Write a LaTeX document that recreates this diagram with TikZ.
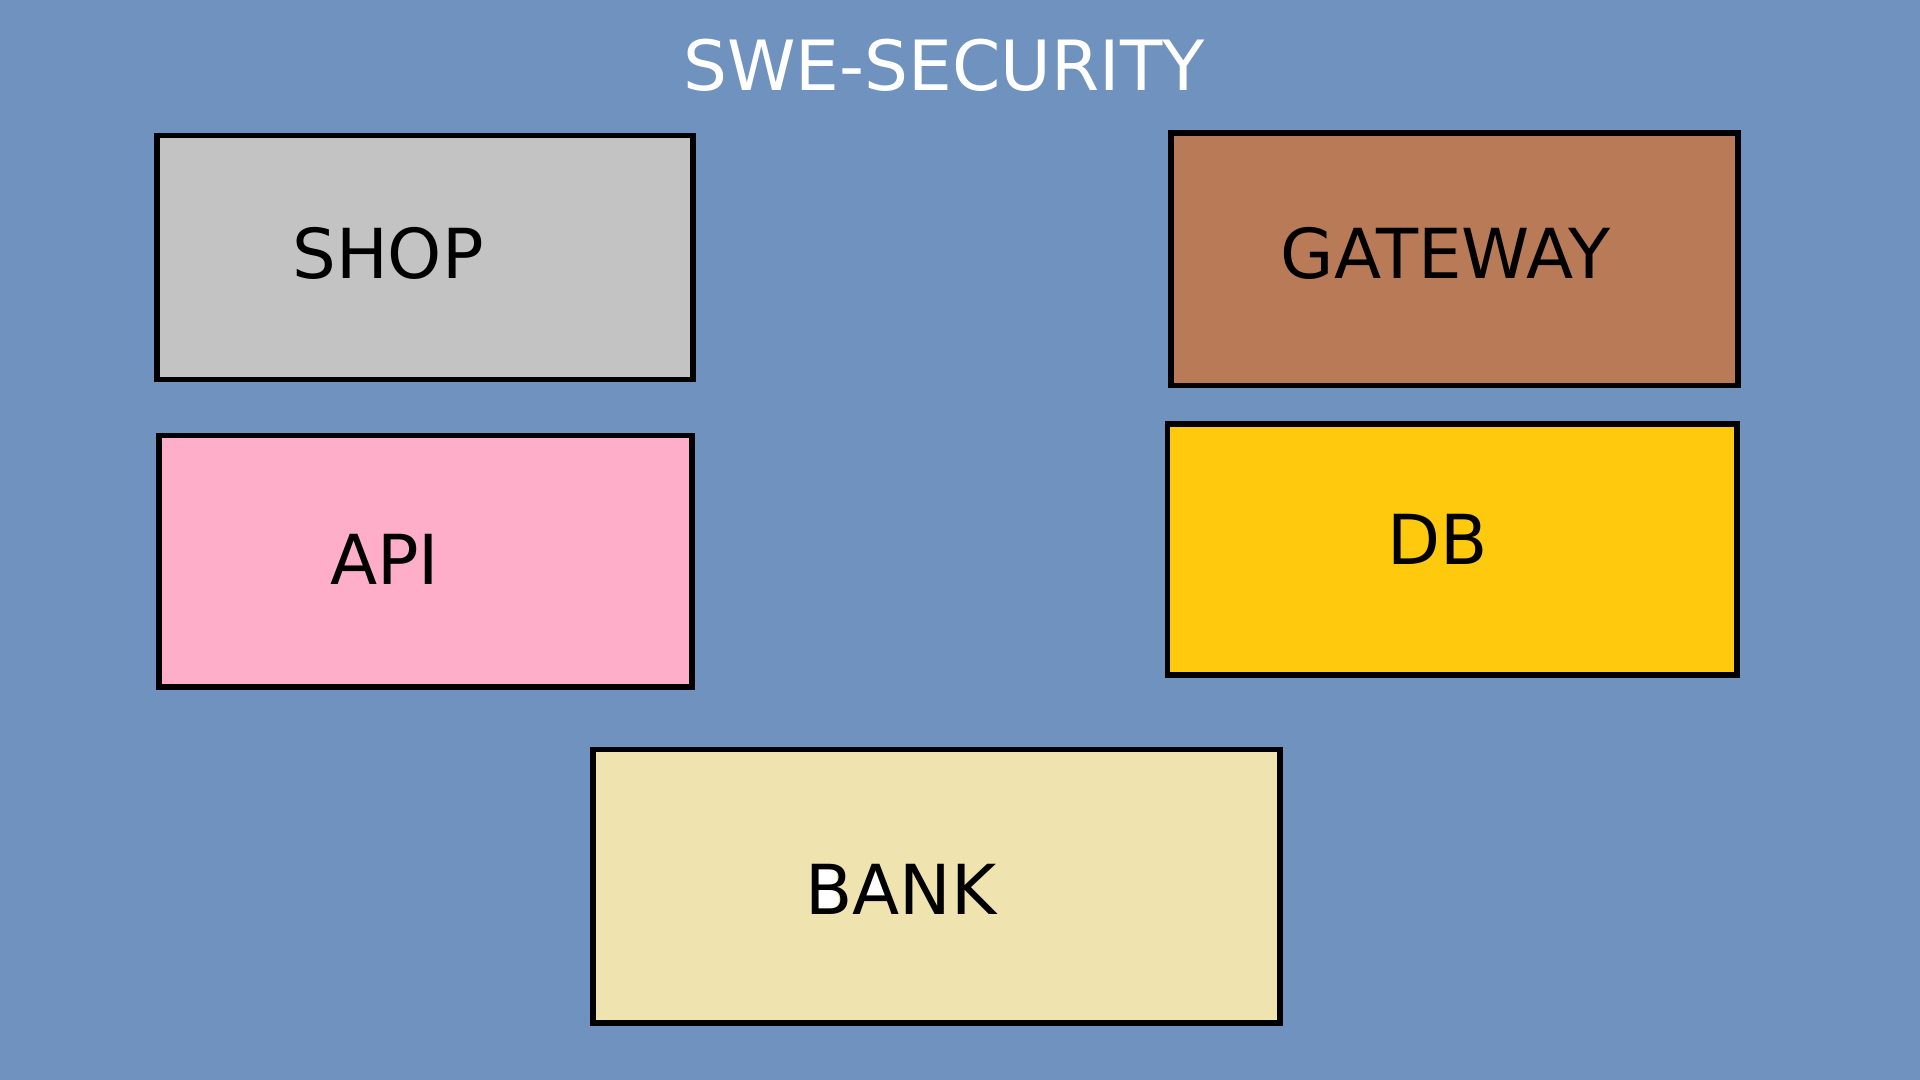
\documentclass[tikz,border=0pt]{standalone}
\usepackage{fontspec}
\setmainfont{DejaVu Sans}
\usepackage{tikz}
\definecolor{backblue}{HTML}{7092BE}
\definecolor{shopgray}{HTML}{C3C3C3}
\definecolor{gatebrown}{HTML}{B97A57}
\definecolor{apipink}{HTML}{FFAEC9}
\definecolor{dbyellow}{HTML}{FFC90E}
\definecolor{bankcream}{HTML}{EFE4B0}
\tikzset{
    %Define style for boxes
    component/.style={
    rectangle,
    draw=black,
    line width=1.6pt,
    inner sep=0pt
    },
    %Define style for the box texts
    caption/.style={
    inner sep=0pt,
    font=\fontsize{19.6}{23}\selectfont,
    text=black
    },
    heading/.style={
    inner sep=0pt,
    font=\fontsize{19.7}{23}\selectfont,
    text=white
    }
}
\begin{document}
\begin{tikzpicture}[x=0.01cm,y=-0.01cm]
    \fill[backblue] (0,0) rectangle (1920,1080);
    \useasboundingbox (0,0) rectangle (1920,1080);
    \node[heading](title) at (944,65.3){SWE-SECURITY};
    % boxes
    \node[component, fill=shopgray, minimum width=5.36cm, minimum height=2.44cm](shop) at (425,257.5){};
    \node[component, fill=gatebrown, minimum width=5.67cm, minimum height=2.525cm](gateway) at (1454.5,259.25){};
    \node[component, fill=apipink, minimum width=5.328cm, minimum height=2.515cm](api) at (425.4,561.25){};
    \node[component, fill=dbyellow, minimum width=5.695cm, minimum height=2.51cm](db) at (1452.25,549.5){};
    \node[component, fill=bankcream, minimum width=6.865cm, minimum height=2.735cm](bank) at (936.25,886.25){};
    % white holes in the letters B and A
    \fill[white] (818,868) -- (830,868) to[out=0,in=0,looseness=1.3] (830,887) -- (818,887) -- cycle;
    \fill[white] (818,890) -- (832,890) to[out=0,in=0,looseness=1.3] (832,908) -- (818,908) -- cycle;
    \fill[white] (874,869) -- (863,895) -- (885,895) -- cycle;
    % texts
    \node[caption](shoptext) at (388,253){SHOP};
    \node[caption](gatewaytext) at (1445.5,253.7){GATEWAY};
    \node[caption](apitext) at (384.8,559.5){API};
    \node[caption](dbtext) at (1438,539.5){DB};
    \node[caption](banktext) at (901,889.5){BANK};
\end{tikzpicture}
\end{document}
